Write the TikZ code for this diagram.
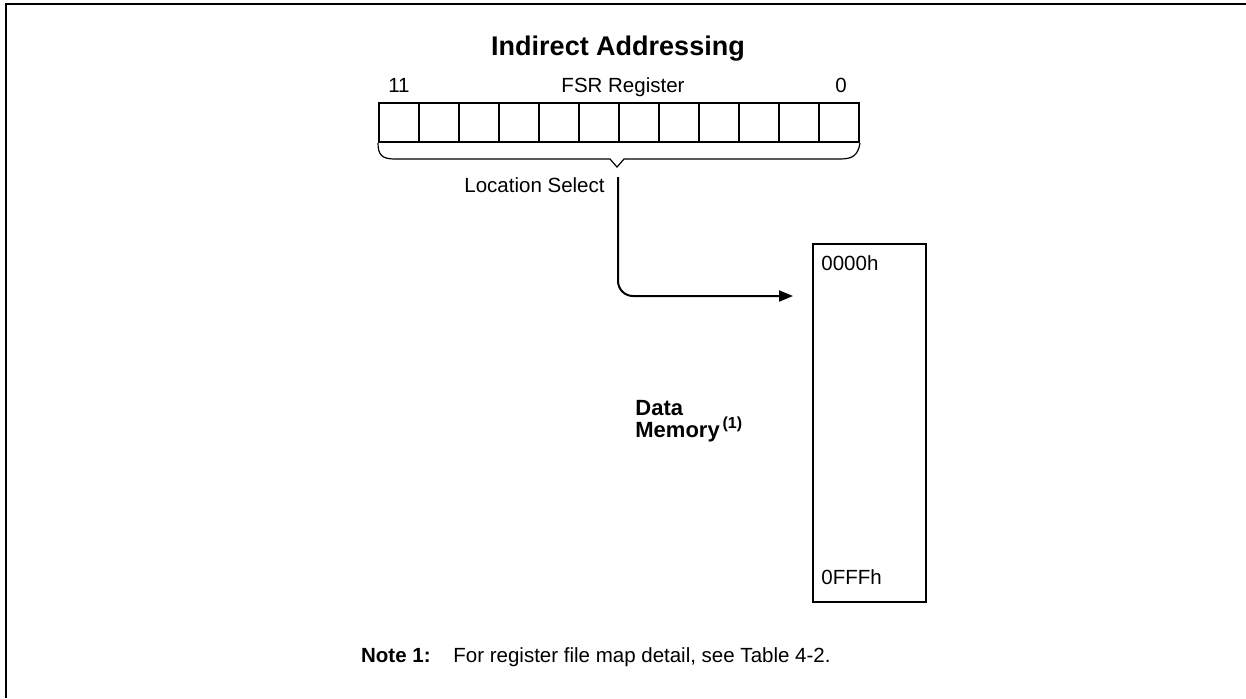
\documentclass[tikz,border=0pt]{standalone}
\usepackage{fontspec}
\setmainfont{Liberation Sans}
\usetikzlibrary{arrows.meta}
\begin{document}
\begin{tikzpicture}[x=0.5pt,y=-0.5pt,
  txt/.style={inner sep=0pt,font=\fontsize{10.25}{12}\selectfont},
  btxt/.style={txt,font=\fontsize{10.25}{12}\selectfont\bfseries},
  dtxt/.style={inner sep=0pt,font=\fontsize{11}{12}\selectfont\bfseries},
  cell/.style={draw,line width=1pt,minimum width=20pt,minimum height=19.5pt,inner sep=0pt,anchor=north west},
  thin/.style={line width=0.6pt},
  thick/.style={line width=1pt}]
\useasboundingbox (0,0) rectangle (1246,698);
% frame
\draw[thick] (6,698) -- (6,4) -- (1246,4);
% title
\node[btxt,font=\fontsize{13.5}{15}\selectfont\bfseries,anchor=base] (title) at (618,55) {Indirect Addressing};
\node[txt,anchor=base] (b11) at (399,92) {11};
\node[txt,anchor=base] (fsr) at (623,92) {FSR Register};
\node[txt,anchor=base] (b0) at (841,92) {0};
% register cells
\foreach \i in {0,...,11}{
  \node[cell] (c\i) at ({378+40*\i},102) {};
}
% brace
\coordinate (tip) at (617,167);
\draw[thin] (c0.south west) .. controls (378,155) and (382,159) .. (395,159)
  -- (610,159) -- (tip) -- (624,159) -- (840,159)
  .. controls (853,159) and (858,155) .. (c11.south east);
\node[txt,anchor=base] (ls) at (534.5,192) {Location Select};
% memory
\node[draw,thick,minimum width=56.5pt,minimum height=179pt,inner sep=0pt,anchor=north west] (mem) at (812,243) {};
\node[txt,anchor=base west] (lo) at (821,270) {0000h};
\node[txt,anchor=base west] (hi) at (821,584) {0FFFh};
\node[dtxt,anchor=base west] (dm1) at (635,415) {Data};
\node[dtxt,anchor=base west] (dm2) at (635,437) {Memory};
\node[inner sep=0pt,font=\fontsize{8}{9}\selectfont\bfseries,anchor=base west] (dm3) at ([xshift=1pt,yshift=4.5pt]dm2.base east) {(1)};
% connector
\coordinate (s) at (618,177);
\draw[thick,rounded corners=7.5pt,-{Triangle[length=7pt,width=5.5pt]}] (s) |- ([xshift=-9.5pt]mem.west |- 0,296);
% note
\node[btxt,anchor=base east] (note) at (431,662) {Note 1:};
\node[txt,anchor=base west] (notetxt) at (453,662) {For register file map detail, see Table 4-2.};
\end{tikzpicture}
\end{document}
